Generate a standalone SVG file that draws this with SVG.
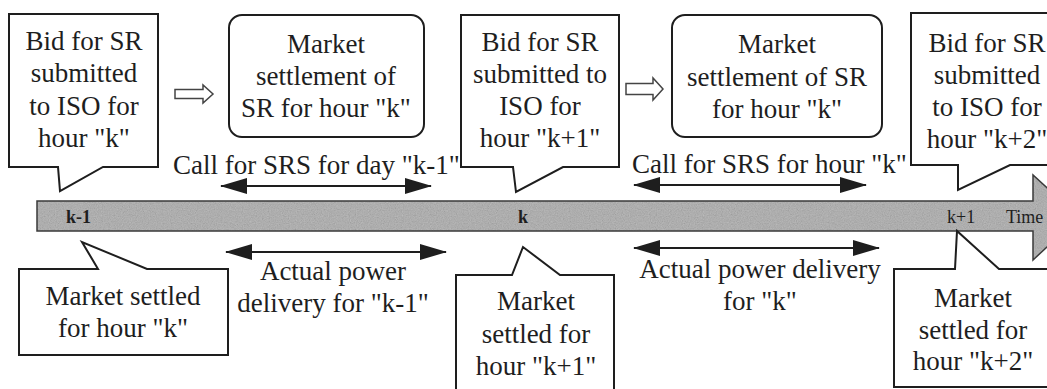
<svg xmlns="http://www.w3.org/2000/svg" width="1047" height="389" viewBox="0 0 1047 389">
  <style>
    .box { fill: #ffffff; stroke: #1e1e1e; stroke-width: 2; stroke-linejoin: miter; }
    .txt { font-family: "Liberation Serif", "Times New Roman", serif; font-size: 27px; fill: #1e1e1e; text-anchor: middle; }
    .tick { font-family: "Liberation Serif", "Times New Roman", serif; font-size: 18px; fill: #1e1e1e; }
    .tick.b { font-weight: bold; }
    .span { stroke: #1e1e1e; stroke-width: 2.2; fill: none; marker-start: url(#head); marker-end: url(#head); }
    .hollow { fill: #ffffff; stroke: #444444; stroke-width: 1.5; stroke-linejoin: miter; }
  </style>
  <defs>
    <marker id="head" viewBox="0 0 27 16" refX="26" refY="8" markerWidth="27" markerHeight="16" markerUnits="userSpaceOnUse" orient="auto-start-reverse">
      <path d="M0,0 L27,8 L0,16 z" fill="#1e1e1e"/>
    </marker>
    <filter id="grain" x="0" y="0" width="1" height="1">
      <feTurbulence type="fractalNoise" baseFrequency="0.85" numOctaves="2" seed="7" result="noise"/>
      <feColorMatrix in="noise" type="matrix" values="0.33 0.33 0.33 0 0  0.33 0.33 0.33 0 0  0.33 0.33 0.33 0 0  0 0 0 0 1" result="grey"/>
      <feComposite in="grey" in2="SourceGraphic" operator="in"/>
    </filter>
  </defs>

  <!-- time axis -->
  <g id="timeline">
    <path d="M37,201 H1033 V175 L1079,217 L1033,260 V231 H37 Z" fill="#a7a7a7"/>
    <path d="M37,201 H1033 V175 L1079,217 L1033,260 V231 H37 Z" fill="#808080" filter="url(#grain)" opacity="0.35"/>
    <path d="M37,201 H1033 V175 L1079,217 L1033,260 V231 H37 Z" fill="none" stroke="#3a3a3a" stroke-width="1.5"/>
    <text class="tick b" x="66" y="223">k-1</text>
    <text class="tick b" x="518" y="223">k</text>
    <text class="tick" x="947" y="223" font-size="19">k+1</text>
    <text class="tick" x="1006" y="223" font-size="19">Time</text>
  </g>

  <!-- bid callouts above the axis -->
  <g id="bid-k">
    <path class="box" d="M9,14 H158 V167 H103 L60,191 L58,167 H9 Z"/>
    <text class="txt" x="84" y="50">Bid for SR</text>
    <text class="txt" x="84" y="82">submitted</text>
    <text class="txt" x="84" y="115">to ISO for</text>
    <text class="txt" x="84" y="147">hour "k"</text>
  </g>

  <g id="bid-k1">
    <path class="box" d="M461,15 H619 V167 H563 L516,192 L513,167 H461 Z"/>
    <text class="txt" x="540" y="51">Bid for SR</text>
    <text class="txt" x="540" y="83">submitted to</text>
    <text class="txt" x="540" y="115">ISO for</text>
    <text class="txt" x="540" y="147">hour "k+1"</text>
  </g>

  <g id="bid-k2">
    <path class="box" d="M911,13 H1062 V165 H1010 L958,190 L958,165 H911 Z"/>
    <text class="txt" x="987" y="52">Bid for SR</text>
    <text class="txt" x="987" y="84">submitted</text>
    <text class="txt" x="987" y="116">to ISO for</text>
    <text class="txt" x="987" y="148">hour "k+2"</text>
  </g>

  <!-- settlement boxes -->
  <g id="settle-1">
    <rect class="box" x="229" y="15" width="195" height="122" rx="13"/>
    <text class="txt" x="326" y="53">Market</text>
    <text class="txt" x="326" y="85">settlement of</text>
    <text class="txt" x="326" y="117">SR for hour "k"</text>
  </g>

  <g id="settle-2">
    <rect class="box" x="672" y="15" width="210" height="122" rx="13"/>
    <text class="txt" x="777" y="53">Market</text>
    <text class="txt" x="777" y="86">settlement of SR</text>
    <text class="txt" x="777" y="118">for hour "k"</text>
  </g>

  <!-- period labels -->
  <g id="call-day">
    <text class="txt" x="173" y="174" style="text-anchor:start">Call for SRS for day "k-1"</text>
  </g>
  <g id="call-hour">
    <text class="txt" x="632" y="173" style="text-anchor:start">Call for SRS for hour "k"</text>
  </g>
  <g id="delivery-1">
    <text class="txt" x="333" y="280">Actual power</text>
    <text class="txt" x="333" y="312">delivery for "k-1"</text>
  </g>
  <g id="delivery-2">
    <text class="txt" x="760" y="278">Actual power delivery</text>
    <text class="txt" x="760" y="310">for "k"</text>
  </g>

  <!-- settled callouts below the axis -->
  <g id="settled-k">
    <path class="box" d="M19,269 H98 L82,242 L147,269 H228 V355 H19 Z"/>
    <text class="txt" x="123" y="305">Market settled</text>
    <text class="txt" x="123" y="337">for hour "k"</text>
  </g>

  <g id="settled-k1">
    <path class="box" d="M456,275 H512 L523,247 L560,275 H614 V395 H456 Z"/>
    <text class="txt" x="536" y="310">Market</text>
    <text class="txt" x="536" y="343">settled for</text>
    <text class="txt" x="536" y="375">hour "k+1"</text>
  </g>

  <g id="settled-k2">
    <path class="box" d="M894,269 H955 L957,231 L999,269 H1060 V387 H894 Z"/>
    <text class="txt" x="973" y="307">Market</text>
    <text class="txt" x="973" y="339">settled for</text>
    <text class="txt" x="973" y="370">hour "k+2"</text>
  </g>

  <!-- connectors -->
  <g id="connectors">
    <path class="hollow" d="M175,89.5 H203 V85 L213,94 L203,103 V98.5 H175 Z"/>
    <path class="hollow" d="M626,83.5 H653 V78 L663,89 L653,100 V94.5 H626 Z"/>
    <line class="span" x1="221" y1="186" x2="431" y2="186"/>
    <line class="span" x1="634" y1="185" x2="866" y2="185"/>
    <line class="span" x1="226" y1="252" x2="446" y2="252"/>
    <line class="span" x1="634" y1="248" x2="879" y2="248"/>
  </g>
</svg>
